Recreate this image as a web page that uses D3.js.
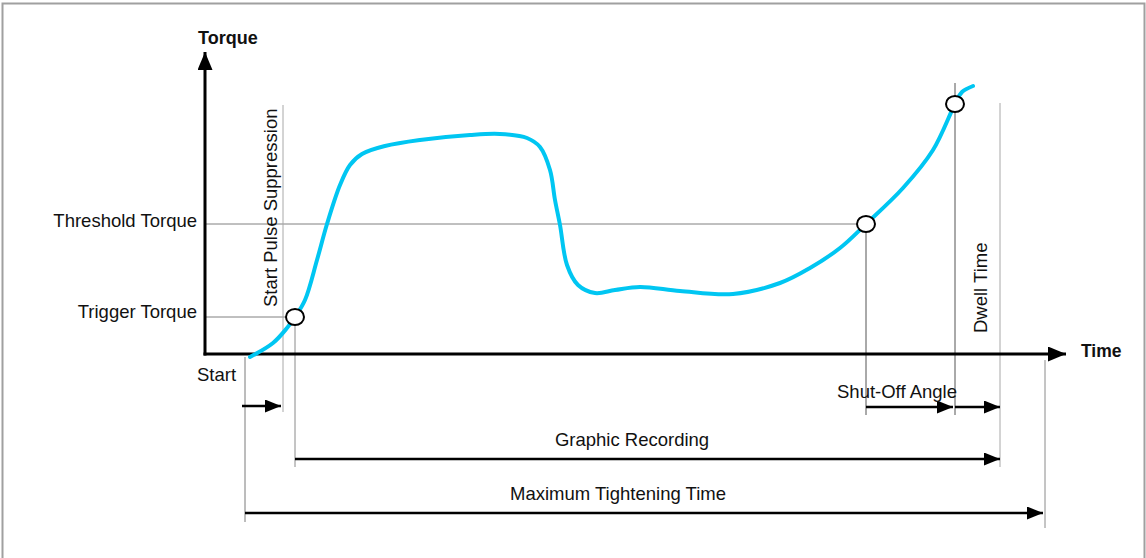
<!DOCTYPE html>
<html>
<head>
<meta charset="utf-8">
<script src="https://cdn.jsdelivr.net/npm/d3@7"></script>
<style>
  html, body { margin: 0; padding: 0; background: #fff; }
  svg { display: block; }
  text { font-family: "Liberation Sans", Arial, sans-serif; fill: #111; }
</style>
</head>
<body>
<svg id="chart" width="1146" height="558"></svg>
<script>
// ---- data (arbitrary time / torque units) ----
const curveTime   = [45, 68, 82, 90, 100, 112, 122, 135, 145, 157, 180, 215, 265, 295, 322, 335, 345, 350, 355, 362, 373, 390, 410, 435, 475, 528, 575, 605, 635, 661, 698, 728, 750, 757, 768];
const curveTorque = [-3, 11, 26, 37, 54, 94, 130, 169, 189, 200, 208, 214, 219, 220, 216, 207, 184, 154, 129, 89, 69, 61, 64, 67, 63, 60, 71, 86, 106, 130, 166, 204, 250, 262, 268];

const levelNames  = ["Threshold Torque", "Trigger Torque"];
const levelValues = [130, 37];

const pointTime   = [90, 661, 750];
const pointTorque = [37, 130, 250];

const markerNames = ["start", "startPulse", "trigger", "threshold", "shutoff", "dwell", "maxTime"];
const markerTime  = [40, 78, 90, 661, 750, 795, 840];

const intervalNames = ["", "Graphic Recording", "Maximum Tightening Time", "Shut-Off Angle", ""];
const intervalFrom  = [40, 90, 40, 661, 750];
const intervalTo    = [78, 795, 840, 750, 795];

const axisTitles = ["Time", "Torque"];

// ---- scales ----
const svg = d3.select("#chart");
const x = d3.scaleLinear().domain([0, 861]).range([205, 1066]);
const y = d3.scaleLinear().domain([0, 300]).range([354, 54]);
const mt = {}; markerNames.forEach((n, i) => mt[n] = markerTime[i]);
const FS = 18.5;

// frame
svg.append("path")
  .attr("d", "M2.5,565 V3.5 H1144.5 V565")
  .attr("fill", "none").attr("stroke", "#a0a0a0").attr("stroke-width", 2);

// arrowheads
const defs = svg.append("defs");
function marker(id, len, wid) {
  defs.append("marker").attr("id", id)
    .attr("viewBox", `0 0 ${len} ${wid}`).attr("refX", len).attr("refY", wid / 2)
    .attr("markerWidth", len).attr("markerHeight", wid)
    .attr("markerUnits", "userSpaceOnUse").attr("orient", "auto")
    .append("path").attr("d", `M0,0 L${len},${wid / 2} L0,${wid} Z`).attr("fill", "#000");
}
marker("axisHead", 18, 15);
marker("head", 16, 13);

// level lines
const levelEnds = [x(pointTime[1]), x(pointTime[0])];
levelValues.forEach((v, i) => {
  svg.append("line").attr("x1", x(0)).attr("x2", levelEnds[i])
    .attr("y1", y(v)).attr("y2", y(v)).attr("stroke", "#808080").attr("stroke-width", 1);
  svg.append("text").attr("x", 197).attr("y", y(v) + (i === 0 ? 3 : 1))
    .attr("text-anchor", "end").attr("font-size", FS).text(levelNames[i]);
});

// vertical marker lines
const vExt = {
  start:      [357, 522, "#7a7a7a"],
  startPulse: [105, 412, "#a8a8a8"],
  trigger:    [y(37), 467, "#8a8a8a"],
  threshold:  [y(130), 415, "#555"],
  shutoff:    [83, 415, "#555"],
  dwell:      [103, 467, "#a8a8a8"],
  maxTime:    [360, 528, "#8a8a8a"]
};
markerNames.forEach(n => {
  const e = vExt[n];
  svg.append("line").attr("x1", x(mt[n])).attr("x2", x(mt[n]))
    .attr("y1", e[0]).attr("y2", e[1]).attr("stroke", e[2]).attr("stroke-width", 1);
});

// axes
svg.append("line").attr("x1", x(0)).attr("y1", y(0) + 1.5).attr("x2", x(0)).attr("y2", 52)
  .attr("stroke", "#000").attr("stroke-width", 3).attr("marker-end", "url(#axisHead)");
svg.append("line").attr("x1", x(0) - 1.5).attr("y1", y(0)).attr("x2", 1066).attr("y2", y(0))
  .attr("stroke", "#000").attr("stroke-width", 3).attr("marker-end", "url(#axisHead)");
svg.append("text").attr("x", 198).attr("y", 44).attr("font-size", 18).attr("font-weight", "bold").text(axisTitles[1]);
svg.append("text").attr("x", 1081).attr("y", 357).attr("font-size", 17.5).attr("font-weight", "bold").text(axisTitles[0]);

// curve
const line = d3.line().x(d => x(d[0])).y(d => y(d[1])).curve(d3.curveCatmullRom.alpha(0.5));
svg.append("path").datum(curveTime.map((t, i) => [t, curveTorque[i]]))
  .attr("d", line).attr("fill", "none").attr("stroke", "#00c6f2")
  .attr("stroke-width", 4).attr("stroke-linecap", "round");

// points
pointTime.forEach((t, i) => {
  svg.append("ellipse").attr("cx", x(t)).attr("cy", y(pointTorque[i]))
    .attr("rx", 9).attr("ry", 8).attr("fill", "#fff").attr("stroke", "#000").attr("stroke-width", 2);
});

// interval arrows
const intY = [406, 459, 513, 407, 407];
const intStartPad = [-3, 0, 0, 0, 0];
const intEndPad = [-2, 0, -2, -2, 0];
intervalNames.forEach((n, i) => {
  svg.append("line")
    .attr("x1", x(intervalFrom[i]) + intStartPad[i]).attr("x2", x(intervalTo[i]) + intEndPad[i])
    .attr("y1", intY[i]).attr("y2", intY[i])
    .attr("stroke", "#000").attr("stroke-width", 2.6).attr("marker-end", "url(#head)");
});
svg.append("text").attr("x", 632).attr("y", 446).attr("text-anchor", "middle").attr("font-size", FS).text(intervalNames[1]);
svg.append("text").attr("x", 618).attr("y", 500).attr("text-anchor", "middle").attr("font-size", FS).text(intervalNames[2]);
svg.append("text").attr("x", 837).attr("y", 398).attr("font-size", FS).text(intervalNames[3]);

// other labels
svg.append("text").attr("x", 197).attr("y", 381).attr("font-size", FS).text("Start");
svg.append("text").attr("transform", "translate(277,307) rotate(-90)").attr("font-size", FS).text("Start Pulse Suppression");
svg.append("text").attr("transform", "translate(987,333) rotate(-90)").attr("font-size", FS).text("Dwell Time");
</script>
</body>
</html>
